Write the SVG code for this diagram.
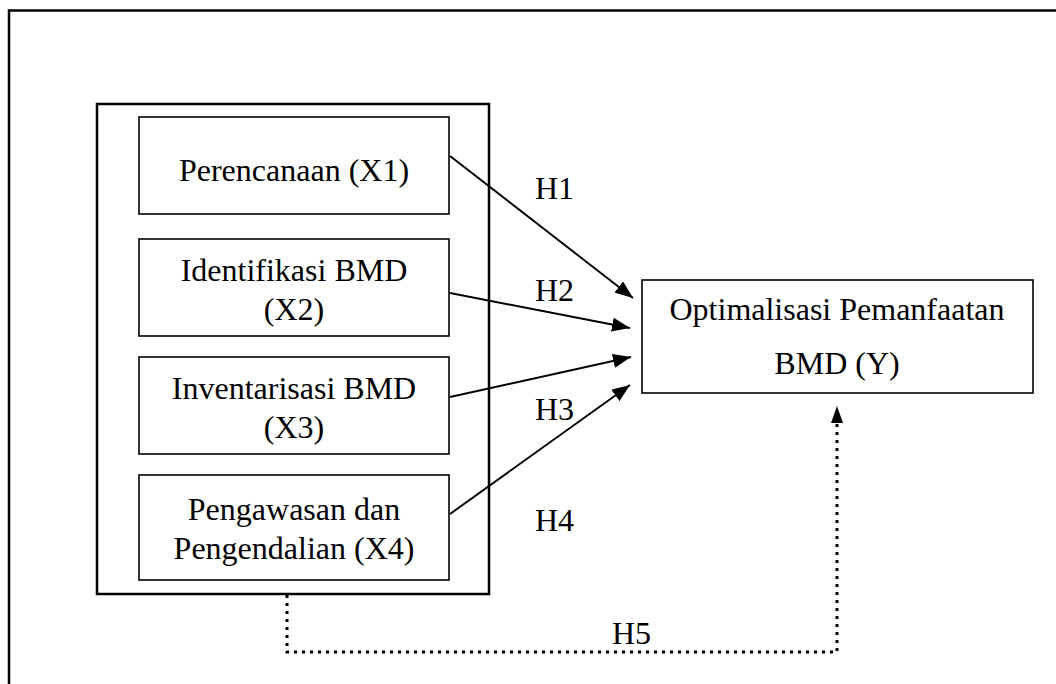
<svg xmlns="http://www.w3.org/2000/svg" width="1056" height="684" viewBox="0 0 1056 684">
<style>
text{font-family:"Liberation Serif","Times New Roman",serif;font-size:32px;fill:#000;text-anchor:middle}
.lbl{text-anchor:start}
.box{fill:none;stroke:#000;stroke-width:1.6}
.arr{stroke:#000;stroke-width:1.9;fill:none;marker-end:url(#ah)}
</style>
<defs>
<marker id="ah" viewBox="0 0 10 10" refX="10" refY="5" markerUnits="userSpaceOnUse" markerWidth="18" markerHeight="14" orient="auto" preserveAspectRatio="none">
<path d="M0,0 L10,5 L0,10 z" fill="#000"/>
</marker>
</defs>
<rect width="1056" height="684" fill="#fff"/>
<g id="frame"><path d="M9,700 V10.5 H1070" fill="none" stroke="#000" stroke-width="2.5"/></g>
<g id="group-x"><rect x="97" y="104" width="392" height="490" fill="none" stroke="#000" stroke-width="2.5"/></g>
<g id="x1"><rect class="box" x="139" y="117" width="310" height="97"/><text x="294" y="181">Perencanaan (X1)</text></g>
<g id="x2"><rect class="box" x="139" y="239" width="310" height="97"/><text x="294" y="281">Identifikasi BMD</text><text x="294" y="320">(X2)</text></g>
<g id="x3"><rect class="box" x="139" y="357" width="310" height="97"/><text x="294" y="399">Inventarisasi BMD</text><text x="294" y="438">(X3)</text></g>
<g id="x4"><rect class="box" x="139" y="475" width="310" height="105"/><text x="294" y="520">Pengawasan dan</text><text x="294" y="559">Pengendalian (X4)</text></g>
<g id="y"><rect class="box" x="642" y="280" width="391" height="113"/><text x="837" y="320">Optimalisasi Pemanfaatan</text><text x="837" y="374">BMD (Y)</text></g>
<g id="connectors">
<line class="arr" x1="450" y1="156" x2="633" y2="298"/>
<line class="arr" x1="450" y1="293" x2="630" y2="328"/>
<line class="arr" x1="450" y1="397" x2="631" y2="357"/>
<line class="arr" x1="450" y1="514" x2="630" y2="385"/>
<path d="M287,595 V652 H837 V424" fill="none" stroke="#000" stroke-width="3" stroke-dasharray="3 5"/>
<path d="M837,406 L843,423 L831,423 z" fill="#000"/>
<text class="lbl" x="535" y="199">H1</text>
<text class="lbl" x="535" y="301">H2</text>
<text class="lbl" x="535" y="420">H3</text>
<text class="lbl" x="535" y="531">H4</text>
<text class="lbl" x="612" y="644">H5</text>
</g>
</svg>
